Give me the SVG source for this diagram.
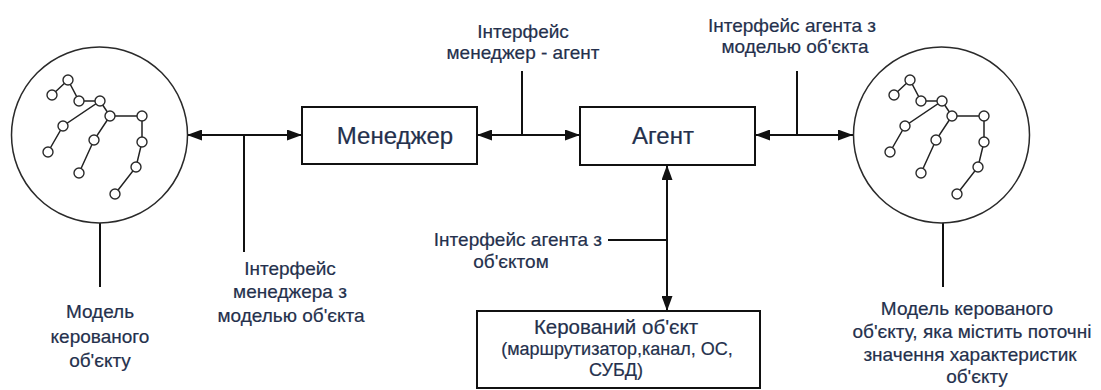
<svg xmlns="http://www.w3.org/2000/svg" width="1101" height="390" viewBox="0 0 1101 390">
  <style>
    .bg { fill: #ffffff; }
    .box { fill: #ffffff; stroke: #111111; stroke-width: 2; }
    .model { fill: #ffffff; stroke: #2a2a2a; stroke-width: 1.5; }
    .edge { stroke: #222222; stroke-width: 1.5; fill: none; }
    .vtx { fill: #ffffff; stroke: #2a2a2a; stroke-width: 1.4; }
    .wire { stroke: #111111; stroke-width: 2; fill: none; }
    .arrow { stroke: #111111; stroke-width: 2; fill: none; marker-start: url(#head); marker-end: url(#head); }
    .label { font-family: "Liberation Sans", Arial, sans-serif; font-size: 19px; fill: #24304c; stroke: #24304c; stroke-width: 0.2; text-anchor: middle; }
    .title { font-family: "Liberation Sans", Arial, sans-serif; font-size: 24px; fill: #24304c; stroke: #24304c; stroke-width: 0.2; text-anchor: middle; }
    .small { font-size: 18px; }
  </style>
  <defs>
    <marker id="head" viewBox="0 0 15 11" refX="15" refY="5.5" markerWidth="15" markerHeight="11" markerUnits="userSpaceOnUse" orient="auto-start-reverse">
      <path d="M0,0 L15,5.5 L0,11 Z" fill="#111111"/>
    </marker>
    <!-- tree drawn inside each object model -->
    <g id="tree">
      <path class="edge" d="M68,80 L52,95 M68,80 L79,101 L100,101 L63,126 L48,152 M100,101 L110,116 L142,116 L142,142 L136,167 L115,194 M110,116 L94,140 L79,173"/>
      <circle class="vtx" cx="68" cy="80" r="5"/>
      <circle class="vtx" cx="52" cy="95" r="5"/>
      <circle class="vtx" cx="79" cy="101" r="5"/>
      <circle class="vtx" cx="100" cy="101" r="5"/>
      <circle class="vtx" cx="110" cy="116" r="5"/>
      <circle class="vtx" cx="142" cy="116" r="5"/>
      <circle class="vtx" cx="63" cy="126" r="5"/>
      <circle class="vtx" cx="142" cy="142" r="5"/>
      <circle class="vtx" cx="48" cy="152" r="5"/>
      <circle class="vtx" cx="94" cy="140" r="5"/>
      <circle class="vtx" cx="136" cy="167" r="5"/>
      <circle class="vtx" cx="79" cy="173" r="5"/>
      <circle class="vtx" cx="115" cy="194" r="5"/>
    </g>
  </defs>

  <rect class="bg" x="0" y="0" width="1101" height="390"/>

  <!-- connectors -->
  <g id="connectors">
    <line class="arrow" x1="187" y1="135" x2="302" y2="135"/>
    <line class="wire" x1="244" y1="135" x2="244" y2="252"/>
    <line class="arrow" x1="477" y1="135" x2="580" y2="135"/>
    <line class="wire" x1="522" y1="71" x2="522" y2="135"/>
    <line class="arrow" x1="755" y1="135" x2="853" y2="135"/>
    <line class="wire" x1="797" y1="71" x2="797" y2="135"/>
    <line class="arrow" x1="667" y1="165" x2="667" y2="311"/>
    <line class="wire" x1="608" y1="240" x2="667" y2="240"/>
    <line class="wire" x1="100" y1="223" x2="100" y2="287"/>
    <line class="wire" x1="943" y1="223" x2="943" y2="287"/>
  </g>

  <!-- manager's object model -->
  <g id="model-left">
    <circle class="model" cx="99.5" cy="135" r="88"/>
    <use href="#tree"/>
  </g>

  <!-- agent's object model -->
  <g id="model-right">
    <circle class="model" cx="941.5" cy="135" r="88"/>
    <use href="#tree" transform="translate(842,0)"/>
  </g>

  <g id="manager">
    <rect class="box" x="302" y="107" width="175" height="57"/>
    <text class="title" x="395" y="144">Менеджер</text>
  </g>

  <g id="agent">
    <rect class="box" x="580" y="107" width="175" height="58"/>
    <text class="title" x="663" y="144">Агент</text>
  </g>

  <g id="managed-object">
    <rect class="box" x="477" y="311" width="283" height="77"/>
    <text class="label" x="616" y="334" style="font-size:20.5px">Керований об'єкт</text>
    <text class="label small" x="617" y="355">(маршрутизатор,канал, ОС,</text>
    <text class="label small" x="616" y="376">СУБД)</text>
  </g>

  <!-- interface labels -->
  <g id="labels">
    <text class="label" x="523" y="38">Інтерфейс</text>
    <text class="label" x="523" y="59">менеджер - агент</text>

    <text class="label" x="792" y="32">Інтерфейс агента з</text>
    <text class="label" x="795" y="53">моделью об'єкта</text>

    <text class="label" x="602" y="246" style="text-anchor:end">Інтерфейс агента з</text>
    <text class="label" x="511" y="268">об'єктом</text>

    <text class="label" x="290" y="275">Інтерфейс</text>
    <text class="label" x="290" y="298">менеджера з</text>
    <text class="label" x="291" y="322">моделью об'єкта</text>

    <text class="label" x="100" y="318">Модель</text>
    <text class="label" x="100" y="343">керованого</text>
    <text class="label" x="100" y="367">об'єкту</text>

    <text class="label" x="967" y="315">Модель керованого</text>
    <text class="label" x="972" y="338">об'єкту, яка містить поточні</text>
    <text class="label" x="970" y="361">значення характеристик</text>
    <text class="label" x="977" y="383">об'єкту</text>
  </g>
</svg>
